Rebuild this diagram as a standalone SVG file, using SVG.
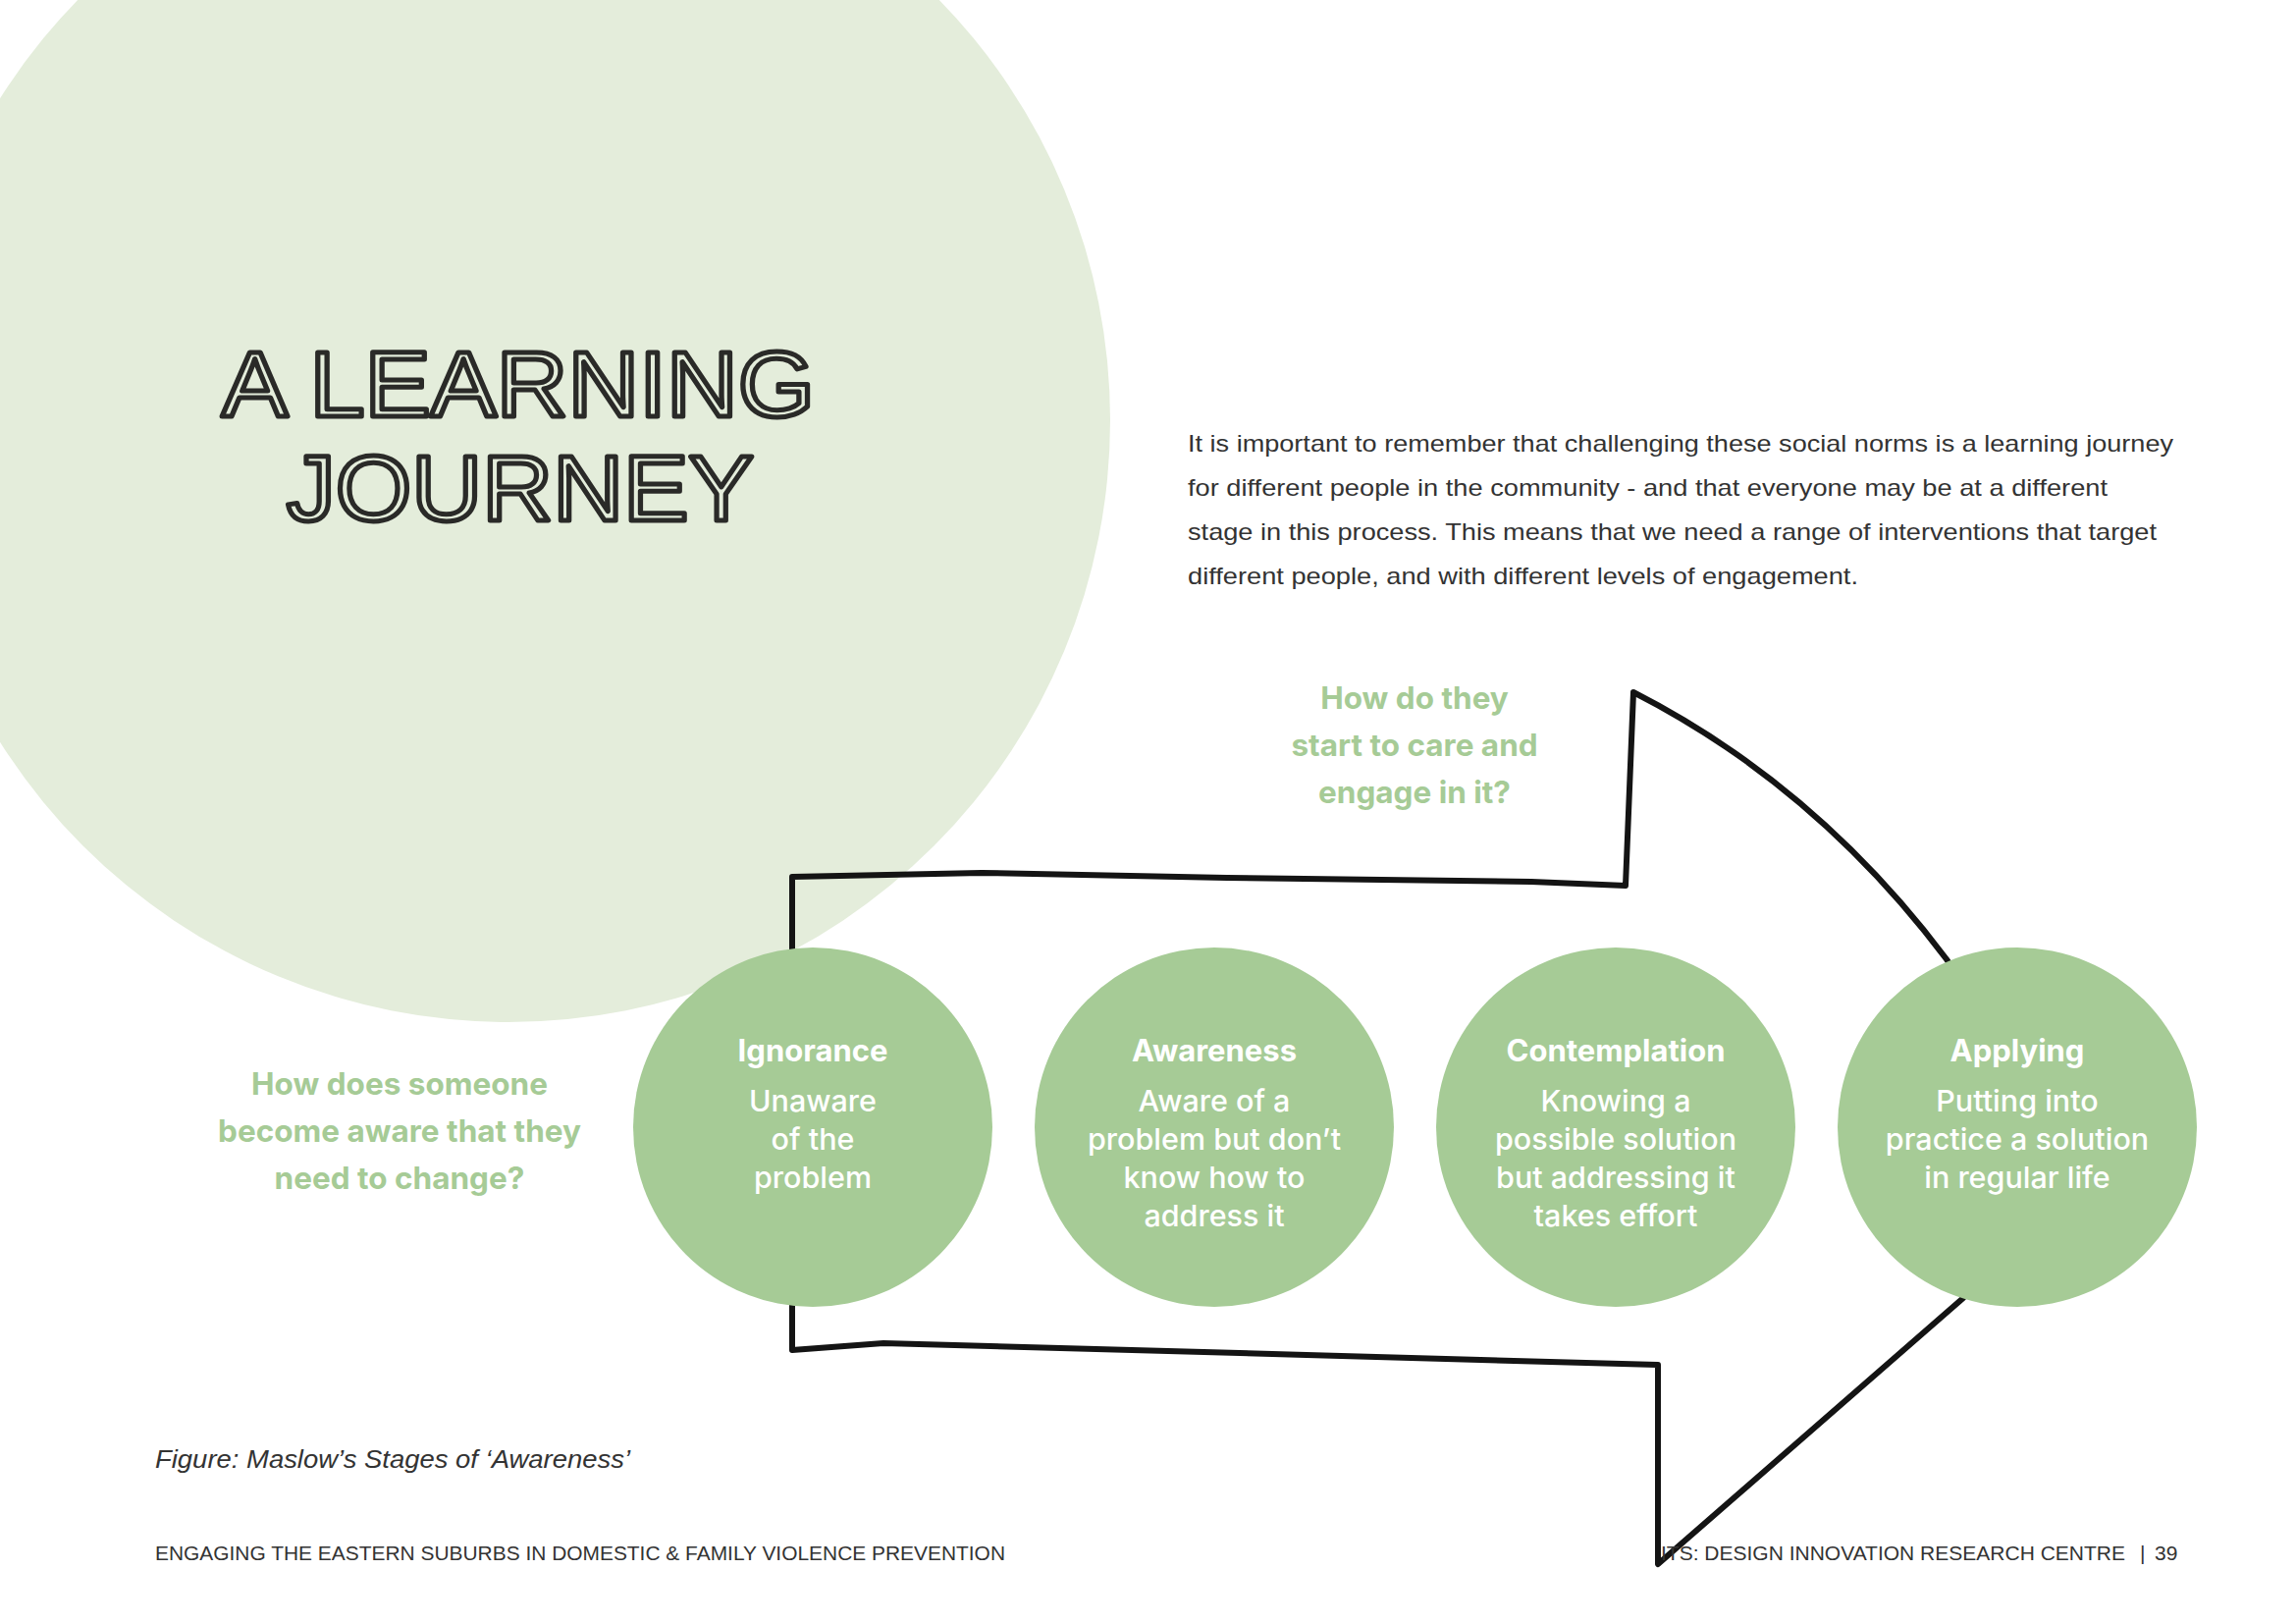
<svg xmlns="http://www.w3.org/2000/svg" width="2339" height="1654" viewBox="0 0 2339 1654">
<style>
.bg{fill:#e4eddb}
.stage{fill:#a6cb96}
.title{font-family:"Liberation Sans",Arial,sans-serif;font-size:95px;fill:#e4eddb;stroke:#2a2a28;stroke-width:5;stroke-linejoin:round;text-anchor:middle}
.para{font-family:"Liberation Sans",Arial,sans-serif;font-size:24px;fill:#333333}
.q{font-family:Inter,"Liberation Sans",sans-serif;font-weight:700;font-size:31.5px;fill:#a6cb96;text-anchor:middle}
.st{font-family:Inter,"Liberation Sans",sans-serif;font-weight:700;font-size:31px;fill:#ffffff;text-anchor:middle}
.sd{font-family:Inter,"Liberation Sans",sans-serif;font-weight:500;font-size:30.5px;fill:#ffffff;text-anchor:middle}
.foot{font-family:"Liberation Sans",Arial,sans-serif;font-size:21px;fill:#333333}
.cap{font-family:"Liberation Sans",Arial,sans-serif;font-style:italic;font-size:26px;fill:#333333}
.arrow{fill:none;stroke:#141414;stroke-width:6;stroke-linejoin:round;stroke-linecap:round}
</style>
<rect width="2339" height="1654" fill="#ffffff"/>
<circle class="bg" cx="518" cy="428" r="613"/>
<g id="title">
<text class="title" x="528" y="424" textLength="604" lengthAdjust="spacingAndGlyphs">A LEARNING</text>
<text class="title" x="530" y="530" textLength="476" lengthAdjust="spacingAndGlyphs">JOURNEY</text>
</g>
<g id="intro">
<text class="para" x="1210" y="460" textLength="1004" lengthAdjust="spacingAndGlyphs">It is important to remember that challenging these social norms is a learning journey</text>
<text class="para" x="1210" y="505" textLength="937" lengthAdjust="spacingAndGlyphs">for different people in the community - and that everyone may be at a different</text>
<text class="para" x="1210" y="550" textLength="987" lengthAdjust="spacingAndGlyphs">stage in this process. This means that we need a range of interventions that target</text>
<text class="para" x="1210" y="595" textLength="683" lengthAdjust="spacingAndGlyphs">different people, and with different levels of engagement.</text>
</g>
<g id="connectors">
<path class="arrow" d="M807 1000 L807 893 L1000 889 L1250 894 L1560 898 L1656 902 L1664 705 Q1850 800 1983 977 L2100 1150 L2000 1322 L1689 1593 L1689 1390 L1331 1380 L900 1368 L807 1375 L807 1300"/>
</g>
<g id="q-care">
<text class="q" x="1441" y="722">How do they</text>
<text class="q" x="1441" y="770">start to care and</text>
<text class="q" x="1441" y="818">engage in it?</text>
</g>
<g id="q-aware">
<text class="q" x="407" y="1115">How does someone</text>
<text class="q" x="407" y="1163">become aware that they</text>
<text class="q" x="407" y="1211">need to change?</text>
</g>
<g id="ignorance">
<circle class="stage" cx="828" cy="1148" r="183"/>
<text class="st" x="828" y="1081">Ignorance</text>
<text class="sd" x="828" y="1132">Unaware</text>
<text class="sd" x="828" y="1171">of the</text>
<text class="sd" x="828" y="1210">problem</text>
</g>
<g id="awareness">
<circle class="stage" cx="1237" cy="1148" r="183"/>
<text class="st" x="1237" y="1081">Awareness</text>
<text class="sd" x="1237" y="1132">Aware of a</text>
<text class="sd" x="1237" y="1171">problem but don’t</text>
<text class="sd" x="1237" y="1210">know how to</text>
<text class="sd" x="1237" y="1249">address it</text>
</g>
<g id="contemplation">
<circle class="stage" cx="1646" cy="1148" r="183"/>
<text class="st" x="1646" y="1081">Contemplation</text>
<text class="sd" x="1646" y="1132">Knowing a</text>
<text class="sd" x="1646" y="1171">possible solution</text>
<text class="sd" x="1646" y="1210">but addressing it</text>
<text class="sd" x="1646" y="1249">takes effort</text>
</g>
<g id="applying">
<circle class="stage" cx="2055" cy="1148" r="183"/>
<text class="st" x="2055" y="1081">Applying</text>
<text class="sd" x="2055" y="1132">Putting into</text>
<text class="sd" x="2055" y="1171">practice a solution</text>
<text class="sd" x="2055" y="1210">in regular life</text>
</g>
<g id="footer">
<text class="cap" x="158" y="1495" textLength="484" lengthAdjust="spacingAndGlyphs">Figure: Maslow’s Stages of ‘Awareness’</text>
<text class="foot" x="158" y="1589" textLength="866" lengthAdjust="spacingAndGlyphs">ENGAGING THE EASTERN SUBURBS IN DOMESTIC &amp; FAMILY VIOLENCE PREVENTION</text>
<text class="foot" x="1692" y="1589" textLength="473" lengthAdjust="spacingAndGlyphs">ITS: DESIGN INNOVATION RESEARCH CENTRE</text>
<text class="foot" x="2180" y="1589">|</text>
<text class="foot" x="2195" y="1589">39</text>
</g>
</svg>
